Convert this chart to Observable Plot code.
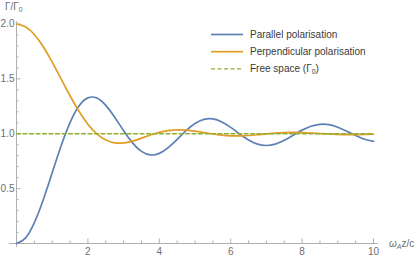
<!DOCTYPE html>
<html><head><meta charset="utf-8">
<script src="https://cdn.jsdelivr.net/npm/d3@7"></script>
<script src="https://cdn.jsdelivr.net/npm/@observablehq/plot@0.6"></script>
<style>body{margin:0;background:#fff}#chart{position:relative;width:415px;height:258px}</style>
</head><body><div id="chart"></div>
<script>
// ω_A z/c sample positions
const u = [0,0.25,0.5,0.75,1,1.25,1.5,1.75,2,2.25,2.5,2.75,3,3.25,3.5,3.75,4,4.25,4.5,4.75,5,5.25,5.5,5.75,6,6.25,6.5,6.75,7,7.25,7.5,7.75,8,8.25,8.5,8.75,9,9.25,9.5,9.75,10];
// Γ/Γ0 for dipole parallel to the mirror
const parallel = [0,0.049,0.190,0.399,0.645,0.891,1.102,1.253,1.327,1.325,1.259,1.151,1.028,0.917,0.839,0.807,0.821,0.874,0.949,1.028,1.093,1.131,1.135,1.108,1.058,0.998,0.944,0.906,0.893,0.906,0.940,0.987,1.033,1.068,1.086,1.083,1.059,1.023,0.984,0.950,0.930];
// Γ/Γ0 for dipole perpendicular to the mirror
const perpendicular = [2,1.975,1.904,1.792,1.653,1.500,1.346,1.205,1.087,0.999,0.943,0.917,0.916,0.933,0.960,0.988,1.013,1.029,1.035,1.033,1.024,1.011,0.998,0.987,0.981,0.981,0.984,0.991,0.999,1.006,1.011,1.012,1.011,1.007,1.002,0.998,0.994,0.992,0.992,0.994,0.997];
const freeU = [0,10];
const freeSpace = [1,1];
const xTicks = [2,4,6,8,10];
const xMinor = [0.5,1,1.5,2.5,3,3.5,4.5,5,5.5,6.5,7,7.5,8.5,9,9.5];
const yTicks = [0.5,1.0,1.5,2.0];
const yMinor = [0.1,0.2,0.3,0.4,0.6,0.7,0.8,0.9,1.1,1.2,1.3,1.4,1.6,1.7,1.8,1.9];
const seriesNames = ["Parallel polarisation","Perpendicular polarisation","Free space (Γ0)"];
// axis extents (plot range with padding)
const xAxisExtent = [-0.2, 10.13];
const yAxisExtent = [-0.035, 2.02];

const blue = "#5E81B5", orange = "#E19C24", green = "#8FB032";
const axisColor = "#b0b0b0", labelColor = "#6e6e6e", legendColor = "#3a3a3a";
const font = "'Liberation Sans', Arial, sans-serif";
const W = 415, H = 258, mL = 16, mR = 42, mT = 23.5, mB = 15;
const fw = W - mL - mR, fh = H - mT - mB;

const parRows = u.map((x,i)=>({x, y: parallel[i]}));
const perpRows = u.map((x,i)=>({x, y: perpendicular[i]}));
const freeRows = freeU.map((x,i)=>({x, y: freeSpace[i]}));

const plot = Plot.plot({
  width: W, height: H, marginLeft: mL, marginRight: mR, marginTop: mT, marginBottom: mB,
  style: {fontFamily: font, fontSize: "10px", background: "white", overflow: "visible"},
  x: {domain: [0,10]},
  y: {domain: [0,2]},
  marks: [
    Plot.ruleY([0], {y: d=>d, x1: () => xAxisExtent[0], x2: () => xAxisExtent[1], stroke: axisColor, strokeWidth: 1}),
    Plot.ruleX([0], {x: d=>d, y1: () => yAxisExtent[0], y2: () => yAxisExtent[1], stroke: axisColor, strokeWidth: 1}),
    Plot.tickX(xMinor, {x: d=>d, stroke: axisColor, insetTop: fh - 2.5}),
    Plot.tickX(xTicks, {x: d=>d, stroke: axisColor, insetTop: fh - 4.5}),
    Plot.tickY(yMinor, {y: d=>d, stroke: axisColor, insetRight: fw - 2.5}),
    Plot.tickY(yTicks, {y: d=>d, stroke: axisColor, insetRight: fw - 4.5}),
    Plot.axisX(xTicks, {tickSize: 0, tickPadding: 4, color: labelColor, fontSize: 10, label: null}),
    Plot.axisY(yTicks, {tickSize: 0, tickPadding: 2, color: labelColor, fontSize: 10, label: null, tickFormat: d=>d.toFixed(1)}),
    Plot.line(parRows, {x: "x", y: "y", stroke: blue, strokeWidth: 1.7, curve: "natural"}),
    Plot.line(perpRows, {x: "x", y: "y", stroke: orange, strokeWidth: 1.7, curve: "natural"}),
    Plot.line(freeRows, {x: "x", y: "y", stroke: green, strokeWidth: 1.4, strokeDasharray: "4,2.5"})
  ]
});
document.getElementById("chart").appendChild(plot);

const svg = d3.select(plot);
const sx = plot.scale("x"), sy = plot.scale("y");
const x0 = sx.apply(0), y0 = sy.apply(0), yTop = sy.apply(2), x10 = sx.apply(10);

// axis labels
const yl = svg.append("text").attr("x", x0 - 11).attr("y", yTop - 14).attr("text-anchor", "start")
  .attr("fill", labelColor).attr("font-size", 10).attr("font-family", font);
yl.append("tspan").text("Γ/Γ");
yl.append("tspan").text("0").attr("font-size", 7).attr("dy", 2);

const xl = svg.append("text").attr("x", x10 + 16).attr("y", y0 + 3.5).attr("text-anchor", "start")
  .attr("fill", labelColor).attr("font-size", 10).attr("font-family", font);
xl.append("tspan").text("ω").attr("font-style", "italic");
xl.append("tspan").text("A").attr("font-size", 7).attr("font-style", "italic").attr("dy", 2);
xl.append("tspan").text("z/c").attr("dy", -2);

// legend
const lg = svg.append("g").attr("transform", `translate(${x0 + 195},${yTop + 10.5})`)
  .attr("font-family", font).attr("font-size", 10).attr("text-anchor", "start");
const colors = [blue, orange, green];
seriesNames.forEach((name, i) => {
  const row = lg.append("g").attr("transform", `translate(0,${i * 17.2})`);
  row.append("line").attr("x1", 0).attr("x2", 32).attr("y1", 0.5).attr("y2", 0.5)
    .attr("stroke", colors[i]).attr("stroke-width", i === 2 ? 1.4 : 1.7)
    .attr("stroke-dasharray", i === 2 ? "4,2.5" : null);
  const t = row.append("text").attr("x", 39).attr("y", 4).attr("fill", legendColor);
  if (i === 2) {
    t.append("tspan").text("Free space (Γ");
    t.append("tspan").text("0").attr("font-size", 7).attr("dy", 2);
    t.append("tspan").text(")").attr("dy", -2);
  } else {
    t.text(name);
  }
});
</script>
</body></html>
